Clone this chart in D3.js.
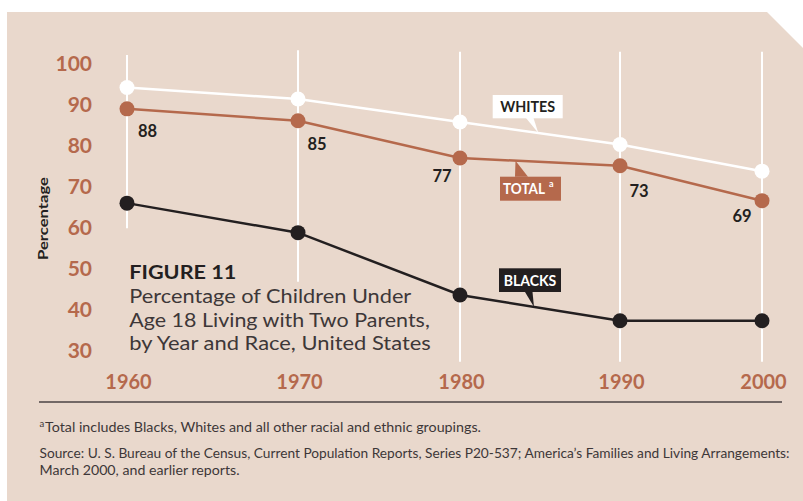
<!DOCTYPE html>
<html>
<head>
<meta charset="utf-8">
<script src="https://cdn.jsdelivr.net/npm/d3@7"></script>
<style>
  html, body { margin: 0; padding: 0; background: #ffffff; }
  svg { display: block; }
  text { font-family: Lato, "Open Sans", sans-serif; }
</style>
</head>
<body>
<svg id="chart" width="803" height="501"></svg>
<script>
// ---- data ----
const years = [1960, 1970, 1980, 1990, 2000];
const whites = [93.9, 91.1, 85.5, 80.0, 73.5];
const total = [88.7, 85.8, 76.7, 74.8, 66.3];
const blacks = [65.7, 58.5, 43.3, 37.0, 37.0];
const totalLabels = ["88", "85", "77", "73", "69"];
const yTicks = [30, 40, 50, 60, 70, 80, 90, 100];
const xTickLabels = ["1960", "1970", "1980", "1990", "2000"];

// ---- style ----
const BG = "#e9d8cc";
const TERRA = "#b5694c";
const INK = "#231f20";
const GRAY = "#3d3738";

const svg = d3.select("#chart");

// panel with clipped corner
svg.append("path")
  .attr("d", "M7,12 L767,12 L803,48 L803,501 L7,501 Z")
  .attr("fill", BG);

// scales
const x = d3.scaleLinear().domain(years).range([127, 298, 460, 620, 762]);
const y = d3.scaleLinear().domain([30, 100]).range([349.5, 62.5]);

// vertical white grid lines (extent in data units)
const gridExtent = [[59.6, 101.8], [46.5, 103], [27, 102.6], [27, 102.6], [27, 102.6]];
svg.append("g").selectAll("line")
  .data(years)
  .join("line")
  .attr("x1", d => x(d)).attr("x2", d => x(d))
  .attr("y1", (d, i) => y(gridExtent[i][0]))
  .attr("y2", (d, i) => y(gridExtent[i][1]))
  .attr("stroke", "#ffffff")
  .attr("stroke-width", 2);

// y axis
const yAxis = svg.append("g")
  .attr("transform", "translate(95,0)")
  .call(d3.axisLeft(y).tickValues(yTicks).tickSize(0).tickPadding(3).tickFormat(d3.format("d")));
yAxis.select(".domain").remove();
yAxis.selectAll("text")
  .attr("fill", TERRA)
  .attr("font-size", 21)
  .attr("font-weight", 700)
  .attr("dy", "0.36em")
  .style("font-family", "Lato, sans-serif");

// x axis
const xAxis = svg.append("g")
  .attr("transform", "translate(1,382)")
  .call(d3.axisBottom(x).tickValues(years).tickSize(0).tickPadding(0)
    .tickFormat((d, i) => xTickLabels[i]));
xAxis.select(".domain").remove();
xAxis.selectAll("text")
  .attr("y", 0)
  .attr("dy", "0.36em")
  .attr("fill", TERRA)
  .attr("font-size", 20)
  .attr("font-weight", 700)
  .style("font-family", "Lato, sans-serif");

// y axis title
svg.append("text")
  .attr("transform", "translate(48,218.5) rotate(-90)")
  .attr("text-anchor", "middle")
  .attr("font-size", 14)
  .attr("font-weight", 700)
  .attr("fill", INK)
  .attr("textLength", 83)
  .attr("lengthAdjust", "spacingAndGlyphs")
  .text("Percentage");

// lines
const series = [
  { values: whites, color: "#ffffff" },
  { values: total, color: TERRA },
  { values: blacks, color: INK }
];
const line = d3.line().x((d, i) => x(years[i])).y(d => y(d));
series.forEach(s => {
  svg.append("path")
    .datum(s.values)
    .attr("d", line)
    .attr("fill", "none")
    .attr("stroke", s.color)
    .attr("stroke-width", 2.5);
});
series.forEach(s => {
  svg.append("g").selectAll("circle")
    .data(s.values)
    .join("circle")
    .attr("cx", (d, i) => x(years[i]))
    .attr("cy", d => y(d))
    .attr("r", 7.5)
    .attr("fill", s.color);
});

// value labels for total
const labelOffsets = [[20.5, 22], [19, 23.5], [-18, 18], [19, 25], [-20, 15.5]];
svg.append("g").selectAll("text")
  .data(totalLabels)
  .join("text")
  .attr("x", (d, i) => x(years[i]) + labelOffsets[i][0])
  .attr("y", (d, i) => y(total[i]) + labelOffsets[i][1])
  .attr("dy", "0.36em")
  .attr("text-anchor", "middle")
  .attr("font-size", 16.5)
  .attr("font-weight", 700)
  .attr("fill", INK)
  .text(d => d);

// series callouts
function interp(vals, px) {
  // y position of a series at pixel px along the line
  const yr = x.invert(px);
  let i = d3.bisectRight(years, yr) - 1;
  i = Math.max(0, Math.min(years.length - 2, i));
  const t = (yr - years[i]) / (years[i + 1] - years[i]);
  return y(vals[i] + t * (vals[i + 1] - vals[i]));
}
const callouts = [
  { text: "WHITES", vals: whites, box: [492.7, 95, 70, 23.3], fill: "#ffffff", ink: INK, w: 55,
    ptr: [[526, 118], [533.5, 118]], tipX: 538.3, sup: false },
  { text: "TOTAL", vals: total, box: [500, 176.7, 61, 24], fill: TERRA, ink: "#ffffff", w: 42,
    ptr: [[515, 176.8], [528, 176.8]], tipX: 515.5, sup: true },
  { text: "BLACKS", vals: blacks, box: [499, 268.3, 62, 23.7], fill: INK, ink: "#ffffff", w: 52.7,
    ptr: [[525, 292], [532.5, 292]], tipX: 534, sup: false }
];
callouts.forEach(c => {
  const g = svg.append("g");
  const tipY = interp(c.vals, c.tipX);
  g.append("path")
    .attr("d", `M${c.ptr[0][0]},${c.ptr[0][1]} L${c.ptr[1][0]},${c.ptr[1][1]} L${c.tipX},${tipY} Z`)
    .attr("fill", c.fill);
  g.append("rect")
    .attr("x", c.box[0]).attr("y", c.box[1])
    .attr("width", c.box[2]).attr("height", c.box[3])
    .attr("fill", c.fill);
  const tx = c.box[0] + (c.sup ? 3 : (c.box[2] - c.w) / 2);
  g.append("text")
    .attr("x", tx)
    .attr("y", c.box[1] + c.box[3] / 2)
    .attr("dy", "0.36em")
    .attr("font-size", 15)
    .attr("font-weight", 700)
    .attr("fill", c.ink)
    .attr("textLength", c.w)
    .attr("lengthAdjust", "spacingAndGlyphs")
    .text(c.text);
  if (c.sup) {
    g.append("text")
      .attr("x", tx + c.w + 4)
      .attr("y", c.box[1] + 10)
      .attr("font-size", 9)
      .attr("font-weight", 700)
      .attr("fill", c.ink)
      .text("a");
  }
});

// title block
svg.append("text")
  .attr("x", 129.3).attr("y", 279.3)
  .attr("font-size", 19.5)
  .attr("font-weight", 700)
  .attr("fill", INK)
  .attr("textLength", 107)
  .attr("lengthAdjust", "spacingAndGlyphs")
  .text("FIGURE 11");
const subtitle = ["Percentage of Children Under", "Age 18 Living with Two Parents,", "by Year and Race, United States"];
const subW = [282, 300.5, 301.5];
const subY = [303.3, 326.7, 350];
subtitle.forEach((t, i) => {
  svg.append("text")
    .attr("x", 129.3).attr("y", subY[i])
    .attr("font-size", 18.5)
    .attr("font-weight", 400)
    .attr("fill", GRAY)
    .attr("textLength", subW[i])
    .attr("lengthAdjust", "spacingAndGlyphs")
    .text(t);
});

// bottom rule
svg.append("line")
  .attr("x1", 39).attr("x2", 782)
  .attr("y1", 402).attr("y2", 402)
  .attr("stroke", "#4a4344")
  .attr("stroke-width", 1.5);

// footnotes
svg.append("text")
  .attr("x", 39.5).attr("y", 427)
  .attr("font-size", 9.5)
  .attr("fill", GRAY)
  .text("a");
svg.append("text")
  .attr("x", 45).attr("y", 431.6)
  .attr("font-size", 13)
  .attr("fill", GRAY)
  .attr("textLength", 436)
  .attr("lengthAdjust", "spacingAndGlyphs")
  .text("Total includes Blacks, Whites and all other racial and ethnic groupings.");
svg.append("text")
  .attr("x", 39.5).attr("y", 458.3)
  .attr("font-size", 13)
  .attr("fill", GRAY)
  .attr("textLength", 750)
  .attr("lengthAdjust", "spacingAndGlyphs")
  .text("Source:  U. S. Bureau of the Census, Current Population Reports, Series P20-537; America\u2019s Families and Living Arrangements:");
svg.append("text")
  .attr("x", 39.5).attr("y", 475)
  .attr("font-size", 13)
  .attr("fill", GRAY)
  .attr("textLength", 200)
  .attr("lengthAdjust", "spacingAndGlyphs")
  .text("March 2000, and earlier reports.");
</script>
</body>
</html>
